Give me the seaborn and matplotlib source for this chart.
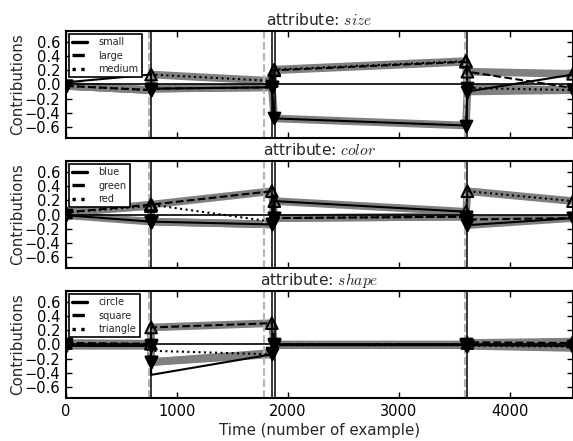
import matplotlib
matplotlib.use("Agg")
import matplotlib.pyplot as plt
from matplotlib.lines import Line2D
import seaborn as sns

# ---------------- data ----------------
# time points (segment boundaries: each segment start/end)
time_points = [0, 766, 768, 1856, 1878, 3605, 3618, 4570]
boundary_solid = [766, 1854, 1880, 3613]
boundary_dashed = [750, 1786, 3596]

size_names = ["small", "large", "medium"]
size_small_line = [0.03, 0.14, -0.06, -0.04, -0.48, -0.58, -0.10, 0.14]
size_small_band = [-0.02, -0.08, -0.06, -0.04, -0.48, -0.58, -0.10, -0.08]
size_large_line = [-0.02, -0.08, -0.06, -0.04, 0.20, 0.32, 0.18, -0.05]
size_large_band = [-0.02, -0.08, -0.06, -0.04, 0.20, 0.32, 0.18, 0.15]
size_medium_line = [-0.02, -0.08, 0.14, 0.05, 0.21, 0.33, -0.05, -0.08]
size_medium_band = [-0.02, -0.08, 0.14, 0.05, 0.21, 0.33, -0.05, -0.08]

color_names = ["blue", "green", "red"]
color_blue_line = [-0.01, -0.10, -0.10, -0.14, 0.19, 0.04, -0.15, -0.05]
color_blue_band = [-0.01, -0.10, -0.10, -0.14, 0.19, 0.04, -0.15, -0.05]
color_green_line = [0.03, 0.14, 0.14, 0.33, -0.05, -0.03, -0.07, -0.05]
color_green_band = [0.03, 0.14, 0.14, 0.33, -0.05, -0.03, -0.07, -0.05]
color_red_line = [0.03, 0.12, 0.14, -0.10, -0.05, -0.03, 0.33, 0.19]
color_red_band = [0.03, 0.12, -0.10, -0.14, -0.05, -0.03, 0.33, 0.19]

shape_names = ["circle", "square", "triangle"]
shape_circle_line = [-0.02, -0.02, -0.43, -0.14, -0.01, -0.01, -0.01, -0.02]
shape_circle_band = [-0.02, -0.02, -0.25, -0.14, -0.01, -0.01, -0.01, -0.02]
shape_square_line = [0.02, 0.01, 0.24, 0.30, 0.00, 0.00, 0.03, 0.02]
shape_square_band = [0.02, 0.01, 0.24, 0.30, 0.00, 0.00, 0.02, 0.04]
shape_triangle_line = [0.00, -0.01, -0.09, -0.14, -0.01, -0.01, -0.02, -0.03]
shape_triangle_band = [0.00, -0.01, -0.25, -0.12, -0.01, -0.01, -0.02, -0.05]

x_ticks = [0, 1000, 2000, 3000, 4000]
y_ticks = [-0.6, -0.4, -0.2, 0.0, 0.2, 0.4, 0.6]

# ---------------- style ----------------
sns.set_style("ticks")
plt.rcParams.update({
    "font.family": ["DejaVu Sans"],
    "mathtext.fontset": "cm",
    "xtick.direction": "in",
    "ytick.direction": "in",
    "xtick.top": True,
    "ytick.right": True,
    "xtick.major.size": 4,
    "ytick.major.size": 4,
    "xtick.major.width": 1,
    "ytick.major.width": 1,
    "axes.linewidth": 1.5,
    "axes.edgecolor": "black",
    "xtick.color": "black",
    "ytick.color": "black",
    "font.size": 10.5,
    "xtick.labelsize": 10.5,
    "ytick.labelsize": 10.5,
})

fig = plt.figure(figsize=(5.73, 4.41), dpi=100)
L, W = 0.115, 0.885
positions = [(L, 0.687, W, 0.243), (L, 0.392, W, 0.243), (L, 0.0975, W, 0.243)]

panels = [
    ("size", size_names, [size_small_line, size_large_line, size_medium_line],
     [size_small_band, size_large_band, size_medium_band]),
    ("color", color_names, [color_blue_line, color_green_line, color_red_line],
     [color_blue_band, color_green_band, color_red_band]),
    ("shape", shape_names, [shape_circle_line, shape_square_line, shape_triangle_line],
     [shape_circle_band, shape_square_band, shape_triangle_band]),
]
styles = ["-", "--", ":"]

for i, (attr, names, lines, bands) in enumerate(panels):
    ax = fig.add_axes(positions[i])
    for b in bands:
        sns.lineplot(x=time_points, y=b, ax=ax, color="#808080", linewidth=5.5,
                     sort=False, estimator=None, zorder=1, legend=False)
    ax.axhline(0, color="black", lw=1.2, zorder=2)
    for xv in boundary_dashed:
        ax.axvline(xv, color="#b4b4b4", ls="--", lw=1.5, zorder=2)
    for xv in boundary_solid:
        ax.axvline(xv, color="black", lw=1.1, zorder=3)
    for ys, ls in zip(lines, styles):
        sns.lineplot(x=time_points, y=ys, ax=ax, color="black", linewidth=1.5,
                     linestyle=ls, sort=False, estimator=None, zorder=4, legend=False)
    for b in bands:
        up_x = [t for t, v in zip(time_points, b) if v > 0]
        up_y = [v for v in b if v > 0]
        dn_x = [t for t, v in zip(time_points, b) if v <= 0]
        dn_y = [v for v in b if v <= 0]
        ax.scatter(up_x, up_y, marker="^", s=70, facecolors="none",
                   edgecolors="black", linewidths=1.5, zorder=5, clip_on=True)
        ax.scatter(dn_x, dn_y, marker="v", s=70, facecolors="black",
                   edgecolors="black", linewidths=1.5, zorder=5, clip_on=True)
    ax.set_xlim(0, 4570)
    ax.set_ylim(-0.757, 0.757)
    ax.set_xticks(x_ticks)
    ax.set_yticks(y_ticks)
    ax.set_yticklabels([f"{v:.1f}".replace("-", "\u2212") for v in y_ticks])
    ax.set_ylabel("Contributions", fontsize=10.8)
    ax.yaxis.set_label_coords(-0.08, 0.5)
    ax.set_title("attribute: $" + attr + "$", fontsize=11.2, pad=4)
    ax.tick_params(axis="both", pad=4)
    if i < 2:
        ax.set_xticklabels([])
        ax.set_xlabel("")
    else:
        ax.set_xlabel("Time (number of example)", fontsize=10.8, labelpad=3)
    handles = [Line2D([0], [0], color="black", lw=2.4, ls=s) for s in styles]
    leg = ax.legend(handles, names, loc="upper left", fontsize=7.0,
                    handlelength=1.5, frameon=True, fancybox=False,
                    framealpha=1, edgecolor="black", borderaxespad=0.3,
                    labelspacing=0.35, borderpad=0.35, handletextpad=1.2)
    leg.get_frame().set_linewidth(1.2)
    leg.set_zorder(10)
    for sp in ax.spines.values():
        sp.set_visible(True)
        sp.set_zorder(6)

fig.savefig("out.png", dpi=100)
